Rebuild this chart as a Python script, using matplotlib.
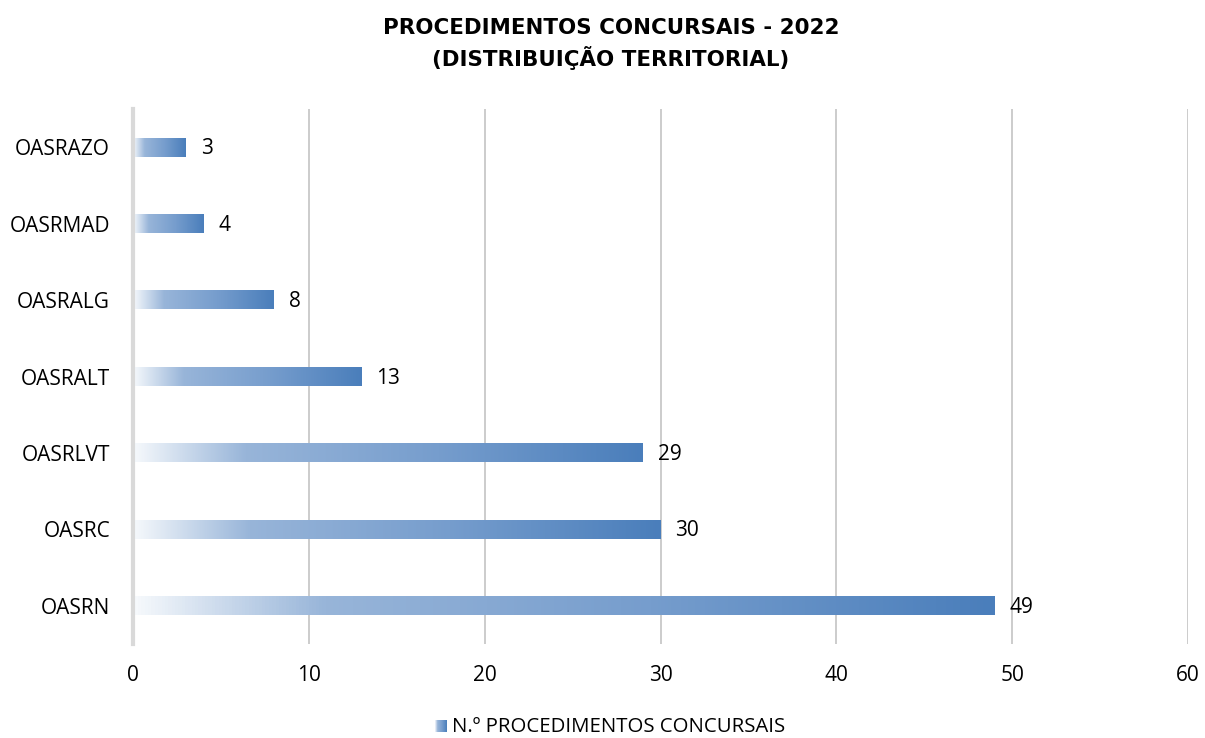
import matplotlib
matplotlib.use("Agg")
import matplotlib.pyplot as plt
import numpy as np
from matplotlib.colors import LinearSegmentedColormap

categories = ["OASRN", "OASRC", "OASRLVT", "OASRALT", "OASRALG", "OASRMAD", "OASRAZO"]
values = [49, 30, 29, 13, 8, 4, 3]
xticks = [0, 10, 20, 30, 40, 50, 60]
title = "PROCEDIMENTOS CONCURSAIS - 2022\n(DISTRIBUIÇÃO TERRITORIAL)"
legend_label = "N.º PROCEDIMENTOS CONCURSAIS"

plt.rcParams['font.family'] = ['Open Sans', 'DejaVu Sans']

cmap = LinearSegmentedColormap.from_list(
    "grad", [(0.0, "#f6f9fc"), (0.22, "#98b5d9"), (0.6, "#769dcd"), (1.0, "#4a7ebb")])

W, H = 1205, 738
fig = plt.figure(figsize=(W / 100, H / 100), dpi=100)
ax = fig.add_axes([0.1104, 0.1274, 0.8755, 0.7246])

FS = 15
bar_h = 0.24
grad = np.linspace(0, 1, 256).reshape(1, -1)
for i, v in enumerate(values):
    ax.imshow(grad, cmap=cmap, aspect='auto', extent=(0, v, i - bar_h / 2, i + bar_h / 2),
              zorder=3, interpolation='bilinear')
    ax.text(v + 0.85, i - 0.02, str(v), va='center', ha='left', fontsize=FS, color='#000000', zorder=4)

ax.set_xlim(0, 60)
ax.set_ylim(-0.5, len(categories) - 0.5)
ax.set_yticks(range(len(categories)))
ax.set_yticklabels(categories)
ax.set_xticks(xticks)
ax.tick_params(axis='both', length=0, labelsize=FS, colors='#000000')
ax.tick_params(axis='y', pad=16.5)
ax.tick_params(axis='x', pad=15)
ax.grid(axis='x', color='#c8c8c8', linewidth=1.3, zorder=0)
ax.set_axisbelow(True)
for s in ['top', 'right', 'bottom']:
    ax.spines[s].set_visible(False)
ax.spines['left'].set_color('#d9d9d9')
ax.spines['left'].set_linewidth(3)
ax.spines['left'].set_zorder(5)

fig.text(611 / W, 1 - 44 / H, title, ha='center', va='center', fontsize=15.4,
         fontweight='bold', family='DejaVu Sans', linespacing=1.42)

# legend
lax = fig.add_axes([435 / W, 6 / H, 12 / W, 12 / H])
lax.imshow(grad, cmap=cmap, aspect='auto', extent=(0, 1, 0, 1))
lax.axis('off')
fig.text(452 / W, 1 - 732 / H, legend_label, ha='left', va='baseline', fontsize=14.7)

fig.savefig("out.png", dpi=100)
